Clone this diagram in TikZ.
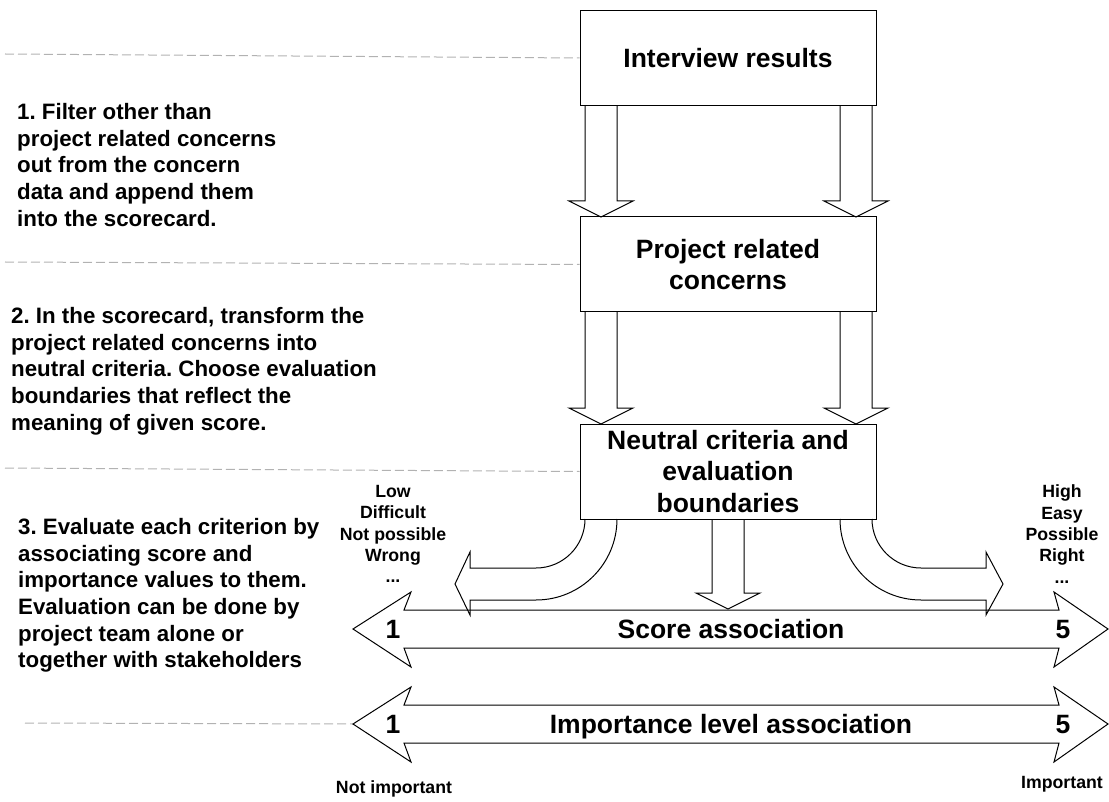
\documentclass[tikz,border=0pt]{standalone}
\usepackage{fontspec}
\setmainfont{Liberation Sans}
\frenchspacing
\newcommand\boxfont{\bfseries\fontsize{26.5}{31.5}\selectfont}
\newcommand\notefont{\bfseries\fontsize{22.3}{26.7}\selectfont}
\newcommand\labfont{\bfseries\fontsize{17.7}{21.4}\selectfont}
\begin{document}
\begin{tikzpicture}[x=1pt,y=-1pt,
  blk/.style={draw=black,line width=1pt,line join=miter},
  stagebox/.style={draw=black,line width=1pt,minimum width=296pt,minimum height=95pt,
    inner sep=0pt,align=center,font=\boxfont},
  guide/.style={draw=gray!60,line width=1pt,dash pattern=on 9pt off 4pt},
  notetext/.style={anchor=north west,inner sep=0pt,align=left,font=\notefont},
  scaletext/.style={inner sep=0pt,align=center,font=\labfont},
  bigtext/.style={inner sep=0pt,anchor=base,font=\boxfont},
  pics/downblk/.style={code={
    \draw[blk] (-16,-#1) -- (-16,-16) -- (-32,-16) -- (0,0) -- (32,-16) -- (16,-16) -- (16,-#1);
  }}
]
\useasboundingbox (0,0) rectangle (1109,802);

% stage boxes
\node[stagebox] (b1) at (728,58) {Interview results};
\node[stagebox] (b2) at (728,264.5) {Project related\\concerns};
\node[stagebox] (b3) at (728,471.5) {Neutral criteria and\\evaluation\\boundaries};

% dashed separators between the phases
\coordinate (g1) at (5,54);
\coordinate (g2) at (5,262);
\coordinate (g3) at (5,468);
\coordinate (g4) at (25,723);
\coordinate (imptip) at (353,724);
\draw[guide] (g1) -- (b1.west);
\draw[guide] (g2) -- (b2.west);
\draw[guide] (g3) -- (b3.west);
\draw[guide] (g4) -- (imptip);

% block arrows between the stages
\pic at (601,217) {downblk=111};
\pic at (856,217) {downblk=111};
\pic at (601,424) {downblk=112};
\pic at (856,424) {downblk=112};
\pic at (728,609) {downblk=90};

% curved arrows towards the ends of the scale
\draw[blk] (585,519) arc[start angle=0,end angle=90,radius=49]
  -- (470,568) -- (470,552) -- (455,584) -- (470,615) -- (470,600) -- (536,600)
  arc[start angle=90,end angle=0,radius=81];
\draw[blk] (840,519) arc[start angle=180,end angle=90,radius=81]
  -- (986,600) -- (986,615) -- (1003,584) -- (986,552) -- (986,568) -- (921,568)
  arc[start angle=90,end angle=180,radius=49];

% score and importance scales
\draw[blk] (404,610) -- (1059,610) -- (1054,592) -- (1108,629) -- (1054,667) -- (1059,648)
  -- (404,648) -- (411,667) -- (353,629) -- (411,592) -- cycle;
\draw[blk] (404,705) -- (1059,705) -- (1054,687) -- (1108,724) -- (1054,762) -- (1059,743)
  -- (404,743) -- (411,762) -- (imptip) -- (411,687) -- cycle;

\node[bigtext] (score) at (731,638.5) {Score association};
\node[bigtext] (imp) at (731,733.5) {Importance level association};
\node[bigtext] (s1) at (393,638.5) {1};
\node[bigtext] (s5) at (1063,638.5) {5};
\node[bigtext] (i1) at (393,733.5) {1};
\node[bigtext] (i5) at (1063,733.5) {5};

% scale end descriptions
\node[scaletext] (low) at (393,534) {Low\\Difficult\\Not possible\\Wrong\\...};
\node[scaletext] (high) at (1062,534) {High\\Easy\\Possible\\Right\\...};
\node[scaletext] (notimp) at (394,789) {Not important};
\node[scaletext] (impt) at (1062,784) {Important};

% phase descriptions
\node[notetext] (n1) at (17,103) {1. Filter other than\\project related concerns\\out from the concern\\data and append them\\into the scorecard.};
\node[notetext] (n2) at (11,307) {2. In the scorecard, transform the\\project related concerns into\\neutral criteria. Choose evaluation\\boundaries that reflect the\\meaning of given score.};
\node[notetext] (n3) at (18,518) {3. Evaluate each criterion by\\associating score and\\importance values to them.\\Evaluation can be done by\\project team alone or\\together with stakeholders};
\end{tikzpicture}
\end{document}
